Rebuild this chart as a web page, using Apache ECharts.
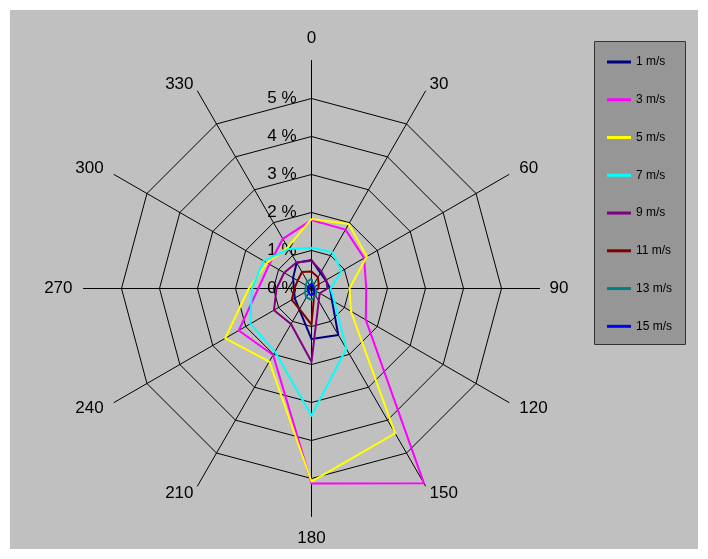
<!DOCTYPE html>
<html><head><meta charset="utf-8">
<script src="https://cdn.jsdelivr.net/npm/echarts@6/dist/echarts.min.js"></script>
<style>html,body{margin:0;padding:0;background:#fff}#c{width:708px;height:559px}</style>
</head><body><div id="c"></div>
<script>
// Directions (degrees, clockwise from north)
const directions = ['0','30','60','90','120','150','180','210','240','270','300','330'];
const seriesNames = ['1 m/s','3 m/s','5 m/s','7 m/s','9 m/s','11 m/s','13 m/s','15 m/s'];
// Frequency (%) per direction, in the order of `directions`
const v1  = [0.75,0.47,0.43,0.49,0.62,1.41,1.33,0.64,0.51,0.46,0.56,0.78];
const v3  = [1.80,1.79,1.60,1.44,1.65,5.92,5.13,2.02,2.21,1.40,1.28,1.51];
const v5  = [1.83,1.96,1.68,1.00,1.20,4.40,5.08,2.22,2.62,1.65,1.35,1.25];
const v7  = [1.07,1.10,0.91,0.50,0.70,1.83,3.35,1.92,1.86,1.57,1.45,1.20];
const v9  = [0.73,0.52,0.45,0.42,0.25,0.38,1.93,1.08,1.14,0.92,0.83,0.79];
const v11 = [0.45,0.34,0.22,0.18,0.10,0.15,0.95,0.63,0.60,0.45,0.42,0.50];
const v13 = [0.25,0.10,0.08,0.10,0.15,0.22,0.30,0.27,0.20,0.15,0.18,0.22];
const v15 = [0.12,0.08,0.06,0.06,0.08,0.12,0.18,0.15,0.10,0.10,0.10,0.10];
const allValues = [v1,v3,v5,v7,v9,v11,v13,v15];
// Ring scale
const ringMin = 0, ringMax = 6, ringCount = 6;

// styles
const colors = ['#000080','#ff00ff','#ffff00','#00ffff','#800080','#800000','#008080','#0000ff'];
const nameGaps = [14,8,12,10,12,8,13,8,12,11,12,8];
const FONT = '"Liberation Sans", Arial, sans-serif';
// rings 0..6: the outermost (6 %) ring is not drawn, only the spokes reach it
const ringColors = ['#000','#000','#000','#000','#000','#000','rgba(0,0,0,0)'];

// ECharts radar runs counter-clockwise; reorder so directions go clockwise
const order = [0,11,10,9,8,7,6,5,4,3,2,1];
const indicator = order.map((i, k) => {
  const ind = { name: directions[i], min: ringMin, max: ringMax, nameGap: nameGaps[i] };
  if (k === 0) {
    ind.axisLabel = { show: true, formatter: '{value} %', fontSize: 17, color: '#000',
      fontFamily: FONT, margin: 15, showMaxLabel: false, showMinLabel: true };
  }
  return ind;
});

const chart = echarts.init(document.getElementById('c'), null, {renderer: 'canvas'});
chart.setOption({
  backgroundColor: '#ffffff',
  animation: false,
  graphic: [
    { type: 'rect', z: -10, silent: true, shape: { x: 10, y: 10, width: 688, height: 539 },
      style: { fill: '#c0c0c0' } },
    { type: 'rect', z: 1, silent: true, shape: { x: 594.5, y: 41.5, width: 91, height: 303 },
      style: { fill: '#969696', stroke: '#333', lineWidth: 1 } }
  ],
  legend: {
    orient: 'vertical', left: 607, top: 55, padding: 0,
    data: seriesNames, icon: 'rect', itemWidth: 24, itemHeight: 3, itemGap: 23.76,
    textStyle: { fontSize: 12, color: '#000', fontFamily: FONT, lineHeight: 14 },
    selectedMode: false
  },
  radar: {
    center: [311.5, 288.5], radius: 228, startAngle: 90, splitNumber: ringCount,
    shape: 'polygon',
    indicator: indicator,
    axisName: { color: '#000', fontSize: 17, fontFamily: FONT },
    axisLine: { lineStyle: { color: '#000', width: 1 } },
    splitLine: { lineStyle: { color: ringColors, width: 1 } },
    splitArea: { show: false },
    axisTick: { show: false },
    axisLabel: { show: false }
  },
  series: [{
    type: 'radar', symbol: 'none',
    data: allValues.map((vals, s) => ({
      name: seriesNames[s],
      value: order.map(i => vals[i]),
      lineStyle: { color: colors[s], width: 2 },
      itemStyle: { color: colors[s] }
    }))
  }]
});
</script></body></html>
